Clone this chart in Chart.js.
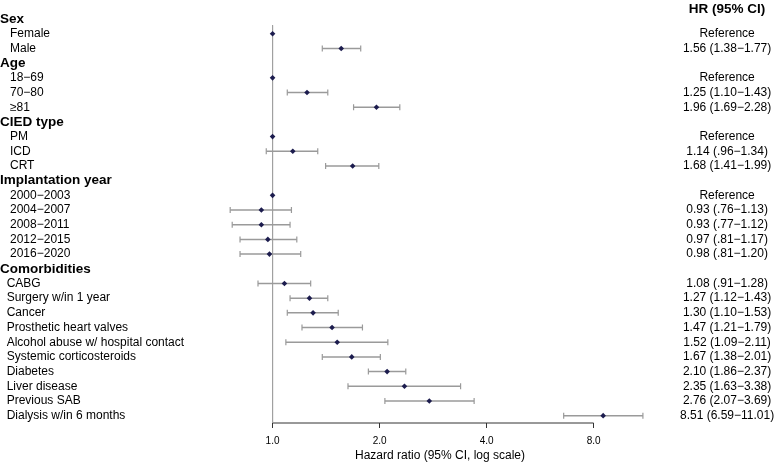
<!DOCTYPE html>
<html>
<head>
<meta charset="utf-8">
<script src="https://cdn.jsdelivr.net/npm/chart.js@4/dist/chart.umd.min.js"></script>
<style>
  body { margin: 0; background: #fff; }
</style>
</head>
<body>
<canvas id="forest" width="777" height="462"></canvas>
<script>
// rows top to bottom, group headers have no estimate
const labels = ['Sex', 'Female', 'Male',
  'Age', '18−69', '70−80', '≥81',
  'CIED type', 'PM', 'ICD', 'CRT',
  'Implantation year', '2000−2003', '2004−2007', '2008−2011', '2012−2015', '2016−2020',
  'Comorbidities', 'CABG', 'Surgery w/in 1 year', 'Cancer', 'Prosthetic heart valves',
  'Alcohol abuse w/ hospital contact', 'Systemic corticosteroids', 'Diabetes',
  'Liver disease', 'Previous SAB', 'Dialysis w/in 6 months']
const headers = ['Sex', 'Age', 'CIED type', 'Implantation year', 'Comorbidities']

const hr = [null, 1, 1.56,
  null, 1, 1.25, 1.96,
  null, 1, 1.14, 1.68,
  null, 1, 0.93, 0.93, 0.97, 0.98,
  null, 1.08, 1.27, 1.30, 1.47, 1.52, 1.67, 2.10, 2.35, 2.76, 8.51]
const lower = [null, null, 1.38,
  null, null, 1.10, 1.69,
  null, null, 0.96, 1.41,
  null, null, 0.76, 0.77, 0.81, 0.81,
  null, 0.91, 1.12, 1.10, 1.21, 1.09, 1.38, 1.86, 1.63, 2.07, 6.59]
const upper = [null, null, 1.77,
  null, null, 1.43, 2.28,
  null, null, 1.34, 1.99,
  null, null, 1.13, 1.12, 1.17, 1.20,
  null, 1.28, 1.43, 1.53, 1.79, 2.11, 2.01, 2.37, 3.38, 3.69, 11.01]
const hrText = ['', 'Reference', '1.56 (1.38−1.77)',
  '', 'Reference', '1.25 (1.10−1.43)', '1.96 (1.69−2.28)',
  '', 'Reference', '1.14 (.96−1.34)', '1.68 (1.41−1.99)',
  '', 'Reference', '0.93 (.76−1.13)', '0.93 (.77−1.12)', '0.97 (.81−1.17)', '0.98 (.81−1.20)',
  '', '1.08 (.91−1.28)', '1.27 (1.12−1.43)', '1.30 (1.10−1.53)', '1.47 (1.21−1.79)',
  '1.52 (1.09−2.11)', '1.67 (1.38−2.01)', '2.10 (1.86−2.37)', '2.35 (1.63−3.38)',
  '2.76 (2.07−3.69)', '8.51 (6.59−11.01)']
const columnTitle = 'HR (95% CI)'
const xTicks = [1, 2, 4, 8]
const xTitle = 'Hazard ratio (95% CI, log scale)'

const FONT = "'Liberation Sans', Arial, sans-serif"
const headerRow = -0.68   // position of the "HR (95% CI)" line
const yMin = -0.81
const yMax = labels.length - 0.5
const comorbStart = labels.indexOf('Comorbidities')

// y ticks: column header first, then one per row
const rowTicks = [headerRow].concat(labels.map((l, i) => i))

let points = []
let whiskers = []
for (let i = 0; i < labels.length; i++) {
  if (hr[i] !== null) points.push({x: hr[i], y: i})
  if (lower[i] !== null) {
    whiskers.push({x: lower[i], y: i})
    whiskers.push({x: upper[i], y: i})
    whiskers.push({x: null, y: null})
  }
}

function isHeader(index) {
  return index > 0 && headers.includes(labels[index - 1])
}

new Chart(document.getElementById('forest'), {
  type: 'scatter',
  data: {
    datasets: [
      {
        data: points,
        pointStyle: 'rectRot',
        pointRadius: 2.8,
        backgroundColor: '#1c1c4e',
        borderWidth: 0,
        order: 0
      },
      {
        data: whiskers,
        showLine: true,
        spanGaps: false,
        borderColor: '#9a9a9a',
        borderWidth: 1.5,
        pointStyle: 'line',
        rotation: 90,
        pointRadius: 3,
        pointBorderColor: '#9a9a9a',
        pointBorderWidth: 1.2,
        order: 1
      },
      {
        // reference line at HR = 1
        data: [{x: 1, y: 0.41}, {x: 1, y: yMax}],
        showLine: true,
        borderColor: '#a0a0a0',
        borderWidth: 1,
        pointRadius: 0,
        order: 2
      },
      {
        // x axis line, only between the first and last tick
        data: [{x: xTicks[0], y: yMax}, {x: xTicks[xTicks.length - 1], y: yMax}],
        showLine: true,
        borderColor: '#333',
        borderWidth: 1,
        pointRadius: 0,
        clip: false,
        order: 3
      }
    ]
  },
  options: {
    responsive: false,
    animation: false,
    layout: { padding: 0 },
    plugins: {
      legend: { display: false },
      tooltip: { enabled: false }
    },
    scales: {
      x: {
        type: 'logarithmic',
        position: 'bottom',
        min: 0.625,
        max: 14.0,
        bounds: 'data',
        afterBuildTicks: axis => { axis.ticks = xTicks.map(v => ({value: v})) },
        afterFit: axis => { axis.height = 39 },
        grid: { drawOnChartArea: false, drawTicks: true, tickLength: 5, color: '#333' },
        border: { display: false },
        ticks: {
          autoSkip: false,
          maxRotation: 0,
          padding: 7,
          color: '#000',
          font: { family: FONT, size: 10 },
          callback: v => Number(v).toFixed(1)
        },
        title: {
          display: true,
          text: xTitle,
          color: '#000',
          font: { family: FONT, size: 12 },
          padding: { top: 0, bottom: -1 }
        }
      },
      y: {
        type: 'linear',
        position: 'left',
        reverse: true,
        min: yMin,
        max: yMax,
        afterBuildTicks: axis => { axis.ticks = rowTicks.map(v => ({value: v})) },
        afterFit: axis => { axis.width = 200 },
        grid: { display: false, drawTicks: false },
        border: { display: false },
        ticks: {
          autoSkip: false,
          crossAlign: 'far',
          padding: 0,
          color: '#000',
          font: ctx => isHeader(ctx.index)
            ? { family: FONT, size: 13.5, weight: 'bold' }
            : { family: FONT, size: 12 },
          callback: (v, index) => {
            if (index === 0) return ''
            let i = index - 1
            if (headers.includes(labels[i])) return labels[i]
            return (i > comorbStart ? '  ' : '   ') + labels[i]
          }
        }
      },
      yR: {
        type: 'linear',
        position: 'right',
        reverse: true,
        min: yMin,
        max: yMax,
        afterBuildTicks: axis => { axis.ticks = rowTicks.map(v => ({value: v})) },
        afterFit: axis => { axis.width = 97 },
        grid: { display: false, drawTicks: false },
        border: { display: false },
        ticks: {
          autoSkip: false,
          crossAlign: 'center',
          padding: 0,
          color: '#000',
          font: ctx => ctx.index === 0
            ? { family: FONT, size: 13.5, weight: 'bold' }
            : { family: FONT, size: 12 },
          callback: (v, index) => index === 0 ? columnTitle : hrText[index - 1]
        }
      }
    }
  }
});
</script>
</body>
</html>
